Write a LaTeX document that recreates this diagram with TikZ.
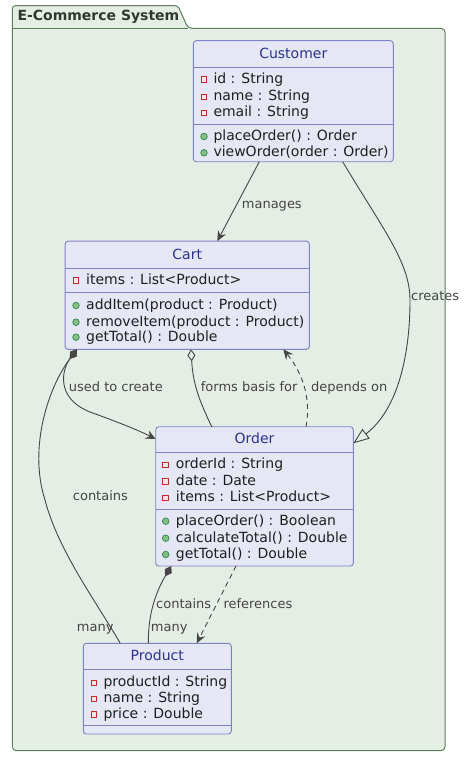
\documentclass[tikz,border=0pt]{standalone}
\usepackage{fontspec}
\setmainfont{DejaVu Sans}
\usetikzlibrary{arrows.meta}
\definecolor{pkgfill}{HTML}{E5EEE5}
\definecolor{pkgdraw}{HTML}{5E7E5E}
\definecolor{pkgtext}{HTML}{2E3A2E}
\definecolor{boxfill}{HTML}{E6E7F4}
\definecolor{boxdraw}{HTML}{7E82C4}
\definecolor{titlecol}{HTML}{2B3192}
\definecolor{linecol}{HTML}{454545}
\definecolor{lblcol}{HTML}{444444}
\definecolor{privdraw}{HTML}{C82930}
\definecolor{pubfill}{HTML}{84BE84}
\definecolor{pubdraw}{HTML}{2E8B4E}
\newcommand{\privmark}[2]{\draw[draw=privdraw, fill=privdraw!12, line width=0.9pt] (#1-2.8,#2-2.8) rectangle (#1+2.8,#2+2.8);}
\newcommand{\pubmark}[2]{\filldraw[draw=pubdraw, fill=pubfill, line width=0.7pt] (#1,#2) circle (3.3pt);}
\begin{document}
\begin{tikzpicture}[x=1pt,y=-1pt,
  classbox/.style={draw=boxdraw, fill=boxfill, rounded corners=3pt, line width=0.9pt, inner sep=0pt, outer sep=0pt},
  sepline/.style={draw=boxdraw, line width=0.9pt},
  ctitle/.style={font=\fontsize{14}{16}\selectfont, text=titlecol, inner sep=0pt, anchor=base},
  member/.style={font=\fontsize{14}{16}\selectfont, text=black!88, inner sep=0pt, anchor=base west},
  conn/.style={draw=linecol, line width=0.9pt},
  dashconn/.style={conn, dash pattern=on 5pt off 4pt},
  lbl/.style={font=\fontsize{13}{15}\selectfont, text=lblcol, inner sep=0pt, anchor=base west},
  umlarrow/.tip={Stealth[length=10pt,width=9pt,inset=3.5pt]},
  umlcompo/.tip={Diamond[length=12pt,width=8pt]},
  umlaggr/.tip={Diamond[length=12pt,width=8pt,fill=pkgfill]},
  umlgen/.tip={Triangle[length=16pt,width=12pt,fill=pkgfill]}
]
\useasboundingbox (0,0) rectangle (466,757);

% package frame
\filldraw[draw=pkgdraw, fill=pkgfill, line width=1pt, rounded corners=4pt]
  (12.3,300) -- (12.3,750.7) -- (445,750.7) -- (445,28.3) -- (188,28.3)
  [rounded corners=3pt] -- (178,5.7) -- (12.3,5.7) -- (12.3,300);
\draw[draw=pkgdraw, line width=1pt] (12.3,28.3) -- (188,28.3);
\node[font=\fontsize{14}{16}\selectfont\bfseries, text=pkgtext, inner sep=0pt, anchor=base west] (pkgtitle) at (17.3,20.4) {E-Commerce System};

% Customer
\node[classbox, minimum width=200pt, minimum height=121pt] (customer) at (293.3,101.2) {};
\draw[sepline] (193.3,67.3) -- (393.3,67.3);
\draw[sepline] (193.3,124) -- (393.3,124);
\node[ctitle] (customerT) at (293.3,58.5) {Customer};
\privmark{204}{79.5}
\node[member] (cu1) at (213.3,83.5) {id : String};
\privmark{204}{96.8}
\node[member] (cu2) at (213.3,100.8) {name : String};
\privmark{204}{112.8}
\node[member] (cu3) at (213.3,116.8) {email : String};
\pubmark{204}{136.5}
\node[member] (cu4) at (213.3,140.5) {placeOrder() : Order};
\pubmark{204}{152.8}
\node[member] (cu5) at (213.3,156.8) {viewOrder(order : Order)};

% Cart
\node[classbox, minimum width=244.3pt, minimum height=108.3pt] (cart) at (187.2,295.2) {};
\draw[sepline] (65,268.3) -- (309.3,268.3);
\draw[sepline] (65,292.3) -- (309.3,292.3);
\node[ctitle] (cartT) at (187.2,259.5) {Cart};
\privmark{76}{280.5}
\node[member] (ca1) at (86,284.5) {items : List\textless Product\textgreater};
\pubmark{76}{305.5}
\node[member] (ca2) at (86,309.5) {addItem(product : Product)};
\pubmark{76}{322.2}
\node[member] (ca3) at (86,326.2) {removeItem(product : Product)};
\pubmark{76}{337.2}
\node[member] (ca4) at (86,341.2) {getTotal() : Double};

% Order
\node[classbox, minimum width=197.6pt, minimum height=139.3pt] (order) at (254.5,496.35) {};
\draw[sepline] (155.7,452.7) -- (353.3,452.7);
\draw[sepline] (155.7,509.3) -- (353.3,509.3);
\node[ctitle] (orderT) at (254.5,443.5) {Order};
\privmark{165.7}{464.8}
\node[member] (or1) at (175.7,468.8) {orderId : String};
\privmark{165.7}{481.5}
\node[member] (or2) at (175.7,485.5) {date : Date};
\privmark{165.7}{497.8}
\node[member] (or3) at (175.7,501.8) {items : List\textless Product\textgreater};
\pubmark{165.7}{521.2}
\node[member] (or4) at (175.7,525.2) {placeOrder() : Boolean};
\pubmark{165.7}{538.2}
\node[member] (or5) at (175.7,542.2) {calculateTotal() : Double};
\pubmark{165.7}{554.5}
\node[member] (or6) at (175.7,558.5) {getTotal() : Double};

% Product
\node[classbox, minimum width=148pt, minimum height=90.7pt] (product) at (157.3,688.65) {};
\draw[sepline] (83.3,669) -- (231.3,669);
\draw[sepline] (83.3,725.7) -- (231.3,725.7);
\node[ctitle] (productT) at (157.3,660.5) {Product};
\privmark{94}{682.8}
\node[member] (pr1) at (103.3,686.8) {productId : String};
\privmark{94}{698.8}
\node[member] (pr2) at (103.3,702.8) {name : String};
\privmark{94}{714.5}
\node[member] (pr3) at (103.3,718.5) {price : Double};

% connectors
\draw[conn, -umlarrow] ([xshift=66pt]customer.south west) -- ([xshift=152.3pt]cart.north west);
\node[lbl] (lmanages) at (241.7,208) {manages};

\draw[conn, -umlgen] ([xshift=149.4pt]customer.south west)
  .. controls (382,228) and (410,262) .. (410,300)
  .. controls (410,362) and (395,412) .. ([yshift=-16.6pt]order.north east);
\node[lbl] (lcreates) at (411,300) {creates};

\draw[conn, umlcompo-umlarrow] ([xshift=12pt]cart.south west)
  .. controls (62,369) and (55,398) .. (90,412)
  .. controls (115,421) and (138,430) .. ([yshift=-12.3pt]order.north west);
\node[lbl] (lused) at (68.7,391.7) {used to create};

\draw[conn, umlcompo-] ([xshift=12pt]cart.south west)
  .. controls (49,386) and (28,447) .. (45,500)
  .. controls (58,550) and (95,600) .. ([xshift=37pt]product.north west);
\node[lbl] (lcontains1) at (72.7,500.7) {contains};
\node[lbl] (lmany1) at (76.7,631.7) {many};

\draw[conn, umlaggr-] ([xshift=126pt]cart.south west)
  .. controls (193,385) and (200,402) .. ([xshift=56pt]order.north west);
\node[lbl] (lforms) at (200.7,391.7) {forms basis for};

\draw[dashconn, -umlarrow] ([xshift=150.3pt]order.north west)
  .. controls (312,395) and (300,370) .. ([xshift=218.3pt]cart.south west);
\node[lbl] (ldepends) at (311,391.7) {depends on};

\draw[conn, umlcompo-] ([xshift=15.6pt]order.south west)
  .. controls (157,590) and (148,612) .. ([xshift=65pt]product.north west);
\node[lbl] (lcontains2) at (156,608.3) {contains};
\node[lbl] (lmany2) at (150.7,631.7) {many};

\draw[dashconn, -umlarrow] ([xshift=80.3pt]order.south west) -- ([xshift=113.4pt]product.north west);
\node[lbl] (lrefs) at (223.3,608.3) {references};
\end{tikzpicture}
\end{document}
